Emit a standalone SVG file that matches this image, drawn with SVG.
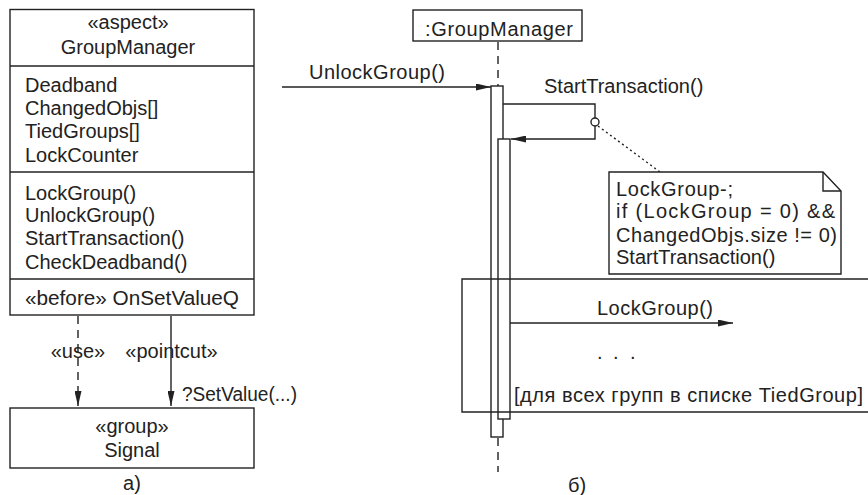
<svg xmlns="http://www.w3.org/2000/svg" width="868" height="495" viewBox="0 0 868 495">
<style>
text{font-family:"Liberation Sans",Arial,sans-serif;font-size:20px;fill:#222}
.c{text-anchor:middle}
.ln{stroke:#222;stroke-width:1.4;fill:none}
.bx{stroke:#222;stroke-width:1.4;fill:#fff}
.dash{stroke:#222;stroke-width:1.4;fill:none;stroke-dasharray:8 6}
</style>
<defs>
<marker id="ah" viewBox="0 0 15 7" refX="15" refY="3.5" markerWidth="15" markerHeight="7" markerUnits="userSpaceOnUse" orient="auto">
<path d="M0,0 L15,3.5 L0,7 z" fill="#222"/>
</marker>
</defs>
<rect width="868" height="495" fill="#fff"/>

<g id="aspect-GroupManager">
<rect class="bx" x="10" y="9.5" width="244" height="305.5"/>
<line class="ln" x1="10" y1="66" x2="254" y2="66"/>
<line class="ln" x1="10" y1="172" x2="254" y2="172"/>
<line class="ln" x1="10" y1="279" x2="254" y2="279"/>
<text class="c" x="128" y="29">«aspect»</text>
<text class="c" x="128" y="54">GroupManager</text>
<text x="25" y="92">Deadband</text>
<text x="25" y="115">ChangedObjs[]</text>
<text x="25" y="138">TiedGroups[]</text>
<text x="25" y="162">LockCounter</text>
<text x="25" y="200">LockGroup()</text>
<text x="25" y="222">UnlockGroup()</text>
<text x="25" y="245">StartTransaction()</text>
<text x="25" y="269">CheckDeadband()</text>
<text x="25" y="305" textLength="214" lengthAdjust="spacingAndGlyphs">«before» OnSetValueQ</text>
</g>

<g id="group-Signal">
<rect class="bx" x="10" y="408" width="244" height="60"/>
<text class="c" x="132" y="433">«group»</text>
<text class="c" x="132" y="457">Signal</text>
</g>

<g id="label-a">
<text class="c" x="132" y="490">a)</text>
</g>

<g id="connectors">
<line class="dash" x1="78" y1="316" x2="78" y2="406" marker-end="url(#ah)"/>
<line class="ln" x1="171" y1="316" x2="171" y2="406" marker-end="url(#ah)"/>
<text class="c" x="78" y="358">«use»</text>
<text class="c" x="171.5" y="358">«pointcut»</text>
<text x="182" y="401" textLength="115" lengthAdjust="spacingAndGlyphs">?SetValue(...)</text>

<!-- lifeline -->
<line class="dash" x1="498" y1="42" x2="498" y2="86"/>
<line class="dash" x1="498" y1="438" x2="498" y2="472"/>

<!-- incoming message -->
<line class="ln" x1="282" y1="87" x2="491" y2="87" marker-end="url(#ah)"/>
<text x="309" y="79" textLength="136">UnlockGroup()</text>

<!-- self call -->
<polyline class="ln" points="503,104 595,104 595,139 511,139" marker-end="url(#ah)"/>
<text x="544" y="93">StartTransaction()</text>

<!-- LockGroup message -->
<line class="ln" x1="510" y1="323" x2="733" y2="323" marker-end="url(#ah)"/>
<text x="597" y="315" textLength="116">LockGroup()</text>
<text x="597 613 630" y="359">...</text>

<!-- note anchor -->
<line class="ln" x1="598" y1="126" x2="660" y2="172" stroke-dasharray="2 3"/>
</g>

<g id="lifeline-GroupManager">
<rect class="bx" x="413" y="10" width="169" height="31"/>
<text class="c" x="499" y="36" textLength="148">:GroupManager</text>
<rect class="bx" x="491" y="86" width="12" height="351"/>
<rect class="bx" x="498" y="139" width="12" height="280"/>
<circle class="bx" cx="595" cy="122" r="4"/>
</g>

<g id="note">
<path class="bx" d="M609,172 H823 L841,191 V274 H609 Z"/>
<path class="ln" d="M823,172 V191 H841"/>
<text x="616" y="196" textLength="117">LockGroup-;</text>
<text x="616" y="218" textLength="219">if (LockGroup = 0) &amp;&amp;</text>
<text x="616" y="242" textLength="221">ChangedObjs.size != 0)</text>
<text x="616" y="264">StartTransaction()</text>
</g>

<g id="loop-fragment">
<path class="ln" d="M870,279 H462 V412 H870"/>
<text x="514" y="402" textLength="349">[для всех групп в списке TiedGroup]</text>
</g>

<g id="label-b">
<text x="568" y="492">б)</text>
</g>
</svg>
